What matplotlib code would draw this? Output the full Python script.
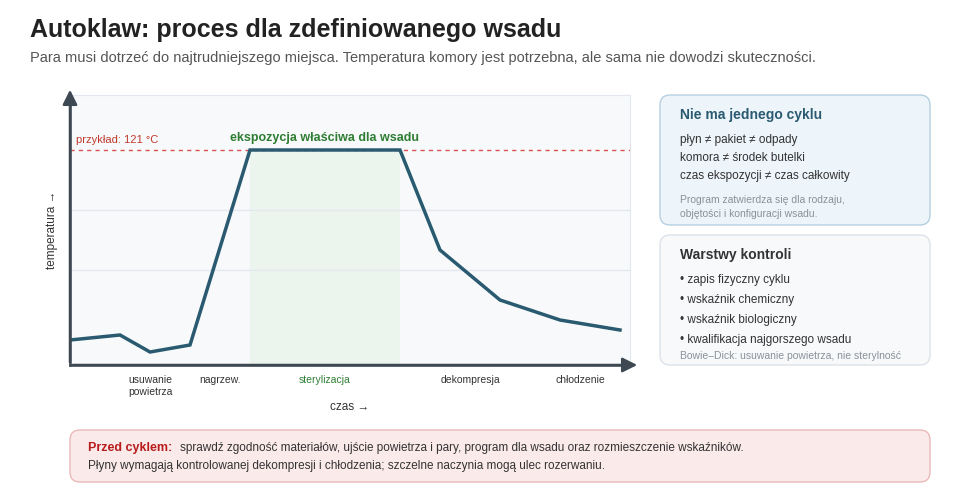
import numpy as np
import matplotlib.pyplot as plt
from matplotlib.patches import FancyBboxPatch

plt.rcParams['font.family'] = ['Liberation Sans', 'DejaVu Sans']

# curve of chamber temperature (arbitrary units, time -> temperature)
czas = [0, 50, 80, 120, 180, 330, 370, 430, 490, 550]
temp = [25, 30, 13, 20, 215, 215, 115, 65, 45, 35]
prog = 215
ekspozycja = (180, 330)
siatka = [95, 155]
fazy = ['usuwanie\npowietrza', 'nagrzew.', 'sterylizacja', 'dekompresja', 'chłodzenie']
fazy_x = [80, 150, 255, 400, 510]

fig = plt.figure(figsize=(9.6, 5), dpi=100)
W, H = 960, 500

bg = fig.add_axes([0, 0, 1, 1])
bg.set_xlim(0, W)
bg.set_ylim(H, 0)
bg.axis('off')

ax = fig.add_axes([70 / W, 1 - 365 / H, 560 / W, 270 / H])
ax.set_xlim(0, 560)
ax.set_ylim(0, 270)
ax.set_facecolor('#f7f9fb')
for s in ['top', 'right']:
    ax.spines[s].set_color('#e3e8ee')
for s in ['left', 'bottom']:
    ax.spines[s].set_color('#3d4852')
    ax.spines[s].set_linewidth(1.8)
ax.set_xticks([])
ax.set_yticks([])
for g in siatka:
    ax.axhline(g, color='#e3e8ee', lw=1)
ax.fill_between(ekspozycja, 0, prog, color='#eaf5ea', alpha=0.8, lw=0)
ax.axhline(prog, color='#d9534f', lw=1, ls=(0, (3, 3)))
ax.plot(czas, temp, color='#2a5a70', lw=2.5, solid_joinstyle='miter')
ax.text(6, prog + 5, 'przykład: 121 °C', color='#c0392b', fontsize=8, va='bottom')
ax.text(sum(ekspozycja) / 2, prog + 6, 'ekspozycja właściwa dla wsadu', color='#2e7d32',
        fontsize=9, fontweight='bold', ha='center', va='bottom')
# arrows of axes
ax.annotate('', xy=(0, 278), xytext=(0, 0), annotation_clip=False,
            arrowprops=dict(arrowstyle='-|>', color='#3d4852', lw=1.8, mutation_scale=22))
ax.annotate('', xy=(570, 0), xytext=(0, 0), annotation_clip=False,
            arrowprops=dict(arrowstyle='-|>', color='#3d4852', lw=1.8, mutation_scale=22))
for f, x in zip(fazy, fazy_x):
    ax.text(x, -10, f, ha='center', va='top', fontsize=7.5,
            color='#2e7d32' if f == 'sterylizacja' else '#333333')
ax.text(-18, 135, 'temperatura →', rotation=90, ha='center', va='center', fontsize=8.5, color='#333')
ax.text(280, -42, 'czas →', ha='center', va='center', fontsize=8.5, color='#333')

bg.text(30, 30, 'Autoklaw: proces dla zdefiniowanego wsadu', fontsize=18, fontweight='bold',
        color='#222', va='center')
bg.text(30, 58, 'Para musi dotrzeć do najtrudniejszego miejsca. Temperatura komory jest potrzebna, '
        'ale sama nie dowodzi skuteczności.', fontsize=10.5, color='#555', va='center')


def panel(x, y, w, h, fc, ec):
    bg.add_patch(FancyBboxPatch((x, y), w, h, boxstyle='round,pad=0,rounding_size=10',
                                fc=fc, ec=ec, lw=1))


panel(660, 95, 270, 130, '#edf4fa', '#b5d0e2')
bg.text(680, 115, 'Nie ma jednego cyklu', fontsize=10, fontweight='bold', color='#2a5a70', va='center')
for i, t in enumerate(['płyn ≠ pakiet ≠ odpady', 'komora ≠ środek butelki',
                       'czas ekspozycji ≠ czas całkowity']):
    bg.text(680, 140 + 18 * i, t, fontsize=8.5, color='#333', va='center')
bg.text(680, 200, 'Program zatwierdza się dla rodzaju,', fontsize=7.5, color='#8a9299', va='center')
bg.text(680, 214, 'objętości i konfiguracji wsadu.', fontsize=7.5, color='#8a9299', va='center')

panel(660, 235, 270, 130, '#f7f9fb', '#dde3e8')
bg.text(680, 255, 'Warstwy kontroli', fontsize=10, fontweight='bold', color='#333', va='center')
for i, t in enumerate(['zapis fizyczny cyklu', 'wskaźnik chemiczny', 'wskaźnik biologiczny',
                       'kwalifikacja najgorszego wsadu']):
    bg.text(680, 280 + 20 * i, '• ' + t, fontsize=8.5, color='#333', va='center')
bg.text(680, 356, 'Bowie–Dick: usuwanie powietrza, nie sterylność', fontsize=7.5,
        color='#8a9299', va='center')

panel(70, 430, 860, 52, '#fbeaea', '#eab8b8')
bg.text(88, 448, 'Przed cyklem:', fontsize=9, fontweight='bold', color='#b71c1c', va='center')
bg.text(180, 448, 'sprawdź zgodność materiałów, ujście powietrza i pary, program dla wsadu oraz '
        'rozmieszczenie wskaźników.', fontsize=8.5, color='#333', va='center')
bg.text(88, 466, 'Płyny wymagają kontrolowanej dekompresji i chłodzenia; szczelne naczynia mogą '
        'ulec rozerwaniu.', fontsize=8.5, color='#333', va='center')

fig.savefig('out.png', dpi=100, facecolor='white')
